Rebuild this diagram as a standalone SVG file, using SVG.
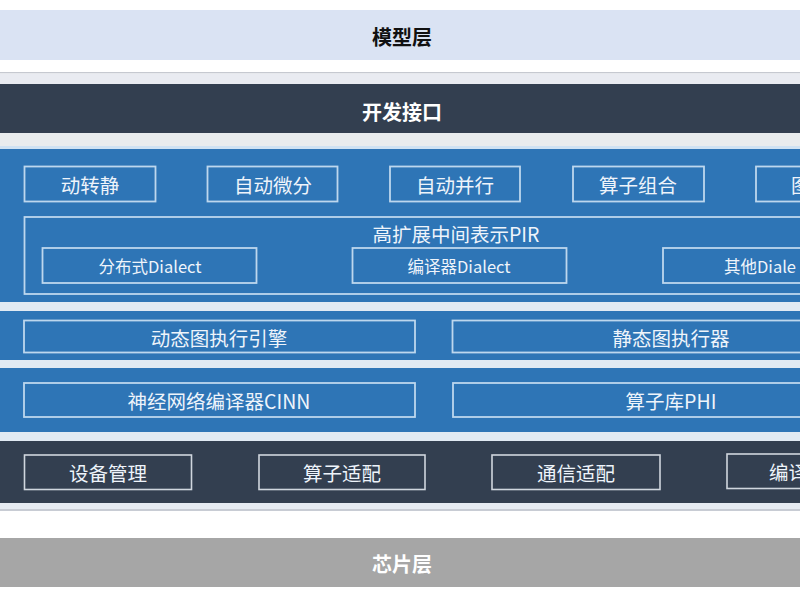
<svg xmlns="http://www.w3.org/2000/svg" width="800" height="600" viewBox="0 0 800 600">
<style>
text{font-family:"Noto Sans CJK SC","Noto Sans",sans-serif;}
.title{font-size:20px;font-weight:700;text-anchor:middle;dominant-baseline:central;}
.lbl{font-size:19.5px;fill:#eef4fb;text-anchor:middle;dominant-baseline:central;}
.sm{font-size:16.5px;fill:#eef4fb;text-anchor:middle;dominant-baseline:central;}
.bbox{fill:none;stroke:#bdd7ee;stroke-width:1.8;}
.dbox{fill:none;stroke:#d0d6de;stroke-width:1.6;}
</style>
<rect x="0" y="0" width="800" height="600" fill="#ffffff"/>
<!-- bands -->
<g id="layer-model">
<rect x="0" y="10" width="800" height="50" fill="#dae3f3"/>
<text class="title" x="402" y="36" fill="#111111">模型层</text>
</g>
<rect x="0" y="72" width="800" height="1.5" fill="#c6c9d0"/>
<rect x="0" y="73.5" width="800" height="10.5" fill="#e9ebf1"/>
<g id="layer-api">
<rect x="0" y="84" width="800" height="49" fill="#333f50"/>
<text class="title" x="402" y="111" fill="#ffffff">开发接口</text>
</g>
<rect x="0" y="133" width="800" height="16" fill="#e9ecee"/>
<rect x="0" y="146" width="800" height="3" fill="#cfe2f3"/>
<g id="layer-framework">
<rect x="0" y="149" width="800" height="153" fill="#2e75b6"/>
</g>
<rect x="0" y="302" width="800" height="9" fill="#e1eaf3"/>
<rect x="0" y="311" width="800" height="49" fill="#2e75b6"/>
<rect x="0" y="360" width="800" height="8" fill="#e1eaf3"/>
<rect x="0" y="368" width="800" height="64" fill="#2e75b6"/>
<rect x="0" y="432" width="800" height="9" fill="#e1eaf3"/>
<rect x="0" y="441" width="800" height="62" fill="#333f50"/>
<rect x="0" y="503" width="800" height="6" fill="#e6ebf2"/>
<rect x="0" y="509" width="800" height="2" fill="#c8ccd4"/>
<g id="layer-chip">
<rect x="0" y="538" width="800" height="49" fill="#a6a6a6"/>
<text class="title" x="402" y="563" fill="#ffffff">芯片层</text>
</g>
<!-- row 1 -->
<g id="n-d2s"><rect class="bbox" x="24.5" y="166.5" width="131" height="35"/><text class="lbl" x="90" y="184">动转静</text></g>
<g id="n-autodiff"><rect class="bbox" x="207.5" y="166.5" width="130" height="35"/><text class="lbl" x="273" y="184">自动微分</text></g>
<g id="n-autopar"><rect class="bbox" x="390" y="166.5" width="130" height="35"/><text class="lbl" x="455" y="184">自动并行</text></g>
<g id="n-opcomb"><rect class="bbox" x="573" y="166.5" width="131" height="35"/><text class="lbl" x="638" y="184">算子组合</text></g>
<g id="n-graph"><rect class="bbox" x="756" y="166.5" width="131" height="35"/><text class="lbl" x="791" y="184" style="text-anchor:start">图</text></g>
<!-- PIR -->
<g id="n-pir"><rect class="bbox" x="24.5" y="217" width="800" height="77"/><text class="lbl" x="456" y="233">高扩展中间表示PIR</text></g>
<g id="n-dist"><rect class="bbox" x="42.5" y="248" width="214" height="35"/><text class="sm" x="150" y="266">分布式Dialect</text></g>
<g id="n-comp"><rect class="bbox" x="352.5" y="248" width="214" height="35"/><text class="sm" x="459" y="266">编译器Dialect</text></g>
<g id="n-other"><rect class="bbox" x="663" y="248" width="214" height="35"/><text class="sm" x="724" y="266" style="text-anchor:start">其他Diale</text></g>
<!-- row 2 -->
<g id="n-dyn"><rect class="bbox" x="24" y="320.5" width="391" height="32"/><text class="lbl" x="219" y="337">动态图执行引擎</text></g>
<g id="n-static"><rect class="bbox" x="452.5" y="320.5" width="400" height="32"/><text class="lbl" x="671" y="337">静态图执行器</text></g>
<!-- row 3 -->
<g id="n-cinn"><rect class="bbox" x="24" y="383" width="391" height="34"/><text class="lbl" x="219" y="400">神经网络编译器CINN</text></g>
<g id="n-phi"><rect class="bbox" x="453" y="383" width="400" height="34"/><text class="lbl" x="671" y="400">算子库PHI</text></g>
<!-- row 4 -->
<g id="n-dev"><rect class="dbox" x="24.5" y="455" width="167" height="34.5"/><text class="lbl" x="108" y="472">设备管理</text></g>
<g id="n-opadapt"><rect class="dbox" x="259" y="455" width="166" height="34.5"/><text class="lbl" x="342" y="472">算子适配</text></g>
<g id="n-comm"><rect class="dbox" x="492" y="455" width="168" height="34.5"/><text class="lbl" x="576" y="472">通信适配</text></g>
<g id="n-compile"><rect class="dbox" x="727" y="454" width="168" height="34.5"/><text class="lbl" x="769" y="471" style="text-anchor:start">编译</text></g>
<g id="connectors"></g>
</svg>
